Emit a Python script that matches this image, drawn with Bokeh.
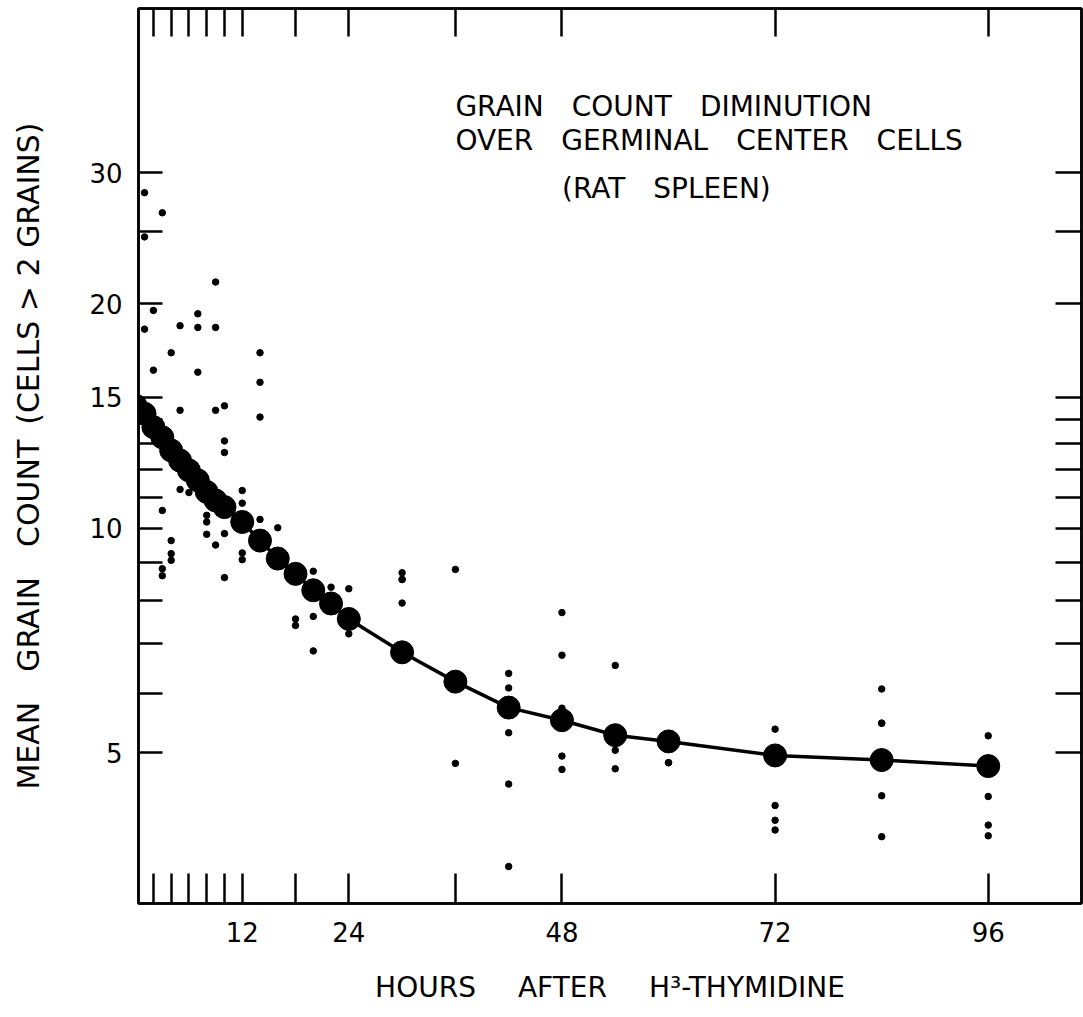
from bokeh.plotting import figure
from bokeh.models import Range1d, LinearAxis, LogAxis, FixedTicker, Label
from bokeh.embed import file_html
from bokeh.resources import INLINE

# ---- data ----
mean_hours = [0, 1, 2, 3, 4, 5, 6, 7, 8, 9, 10, 12, 14, 16, 18, 20, 22, 24,
              30, 36, 42, 48, 54, 60, 72, 84, 96]
mean_grains = [14.6, 14.25, 13.67, 13.25, 12.72, 12.33, 11.96, 11.6, 11.19, 10.9,
               10.68, 10.2, 9.63, 9.11, 8.69, 8.26, 7.93, 7.56,
               6.82, 6.23, 5.75, 5.53, 5.28, 5.18, 4.96, 4.89, 4.8]

ind_hours = [1, 3, 1, 2, 1, 5, 7, 7, 9, 9, 2, 4, 7, 14,
             14, 14, 5, 9, 10, 10, 10, 5, 6, 3, 12, 12, 8, 8, 8, 10, 9, 14, 16,
             4, 4, 4, 3, 3, 10, 12, 12,
             20, 22, 24, 18, 18, 20, 24, 20,
             30, 30, 30, 30, 36, 36,
             42, 42, 42, 42, 42,
             48, 48, 48, 48, 48,
             54, 54, 54, 60, 60,
             72, 72, 72, 72,
             84, 84, 84, 84, 84,
             96, 96, 96, 96]
ind_grains = [28.2, 26.5, 24.6, 19.6, 18.5, 18.7, 19.4, 18.6, 18.6, 21.4, 16.3, 17.2, 16.2, 17.2,
              15.7, 14.1, 14.4, 14.4, 14.6, 13.1, 12.64, 11.28, 11.17, 10.57, 11.24, 10.81, 10.41, 10.2, 9.82, 9.84, 9.5, 10.28, 10.02,
              9.63, 9.25, 9.06, 8.83, 8.64, 8.59, 9.27, 9.08,
              8.76, 8.34, 8.3, 7.56, 7.41, 7.62, 7.22, 6.85,
              8.72, 8.54, 8.54, 7.94, 8.81, 4.84,
              6.39, 6.11, 5.32, 4.54, 3.52,
              7.71, 6.76, 5.74, 4.95, 4.75,
              6.55, 5.04, 4.76, 4.85, 4.85,
              5.38, 4.25, 4.06, 3.94,
              6.09, 5.48, 5.48, 4.38, 3.86,
              5.27, 4.37, 4.0, 3.87]

x_ticks = [2, 4, 6, 8, 10, 12, 18, 24, 36, 48, 72, 96]
x_labels = {12: "12", 24: "24", 48: "48", 72: "72", 96: "96"}
y_ticks = [5, 6, 7, 8, 9, 10, 11, 12, 13, 14, 15, 20, 25, 30]
y_labels = {5: "5", 10: "10", 15: "15", 20: "20", 30: "30"}

EM = "\u2003"
EN = "\u2002"
title_lines = ["GRAIN" + EM + "COUNT" + EM + "DIMINUTION",
               "OVER" + EM + "GERMINAL" + EM + "CENTER" + EM + "CELLS",
               "(RAT" + EM + "SPLEEN)"]
x_title = "HOURS" + EM + EN + "AFTER" + EM + EN + "H³-THYMIDINE"
y_title = "MEAN" + EM + "GRAIN" + EM + "COUNT" + EN + "(CELLS > 2 GRAINS)"

FONT = "DejaVu Sans"

p = figure(width=1083, height=1017,
           x_range=Range1d(0.32, 106.5), y_range=Range1d(3.14, 49.8),
           y_axis_type="log", x_axis_location=None, y_axis_location=None,
           output_backend="svg", toolbar_location=None,
           min_border_left=138, min_border_right=2, min_border_top=8, min_border_bottom=114)
p.xgrid.visible = False
p.ygrid.visible = False
p.outline_line_color = "black"
p.outline_line_width = 2.5
p.background_fill_color = "white"
p.border_fill_color = "white"

def xl(t):
    return {t_: x_labels.get(t_, "") for t_ in t}

def yl(t):
    return {t_: y_labels.get(t_, "") for t_ in t}

common = dict(axis_line_color="black", axis_line_width=2.5,
              major_tick_line_color="black", major_tick_line_width=2.5,
              minor_tick_line_color=None, major_tick_out=0,
              major_label_text_font=FONT, axis_label_text_font=FONT,
              axis_label_text_font_style="normal", axis_label_text_color="black",
              major_label_text_color="black")

bottom = LinearAxis(ticker=FixedTicker(ticks=x_ticks), major_label_overrides=xl(x_ticks),
                    major_tick_in=30, major_label_standoff=18,
                    major_label_text_font_size="26px",
                    axis_label=x_title, axis_label_standoff=26,
                    axis_label_text_font_size="28px", **common)
top = LinearAxis(ticker=FixedTicker(ticks=x_ticks), major_label_overrides={t: "" for t in x_ticks},
                 major_tick_in=28, major_label_standoff=0, major_label_text_font_size="1px",
                 **common)
left = LogAxis(ticker=FixedTicker(ticks=y_ticks), major_label_overrides=yl(y_ticks),
               major_tick_in=24, major_label_standoff=16,
               major_label_text_font_size="26px",
               axis_label=y_title, axis_label_standoff=40,
               axis_label_text_font_size="30px", **common)
right = LogAxis(ticker=FixedTicker(ticks=y_ticks), major_label_overrides={t: "" for t in y_ticks},
                major_tick_in=26, major_label_standoff=0, major_label_text_font_size="1px",
                **common)
p.add_layout(bottom, "below")
p.add_layout(top, "above")
p.add_layout(left, "left")
p.add_layout(right, "right")

p.scatter(ind_hours, ind_grains, size=6.5, color="black")
p.line(mean_hours, mean_grains, line_width=3.5, color="black")
p.scatter(mean_hours, mean_grains, size=23, color="black")

p.add_layout(Label(x=36, y=36.8, text=title_lines[0], text_font=FONT, text_font_size="28px",
                   text_baseline="middle", text_align="left", text_color="black"))
p.add_layout(Label(x=36, y=33.1, text=title_lines[1], text_font=FONT, text_font_size="28px",
                   text_baseline="middle", text_align="left", text_color="black"))
p.add_layout(Label(x=48, y=28.6, text=title_lines[2], text_font=FONT, text_font_size="28px",
                   text_baseline="middle", text_align="left", text_color="black"))

open("out.html", "w").write(file_html(p, INLINE))
